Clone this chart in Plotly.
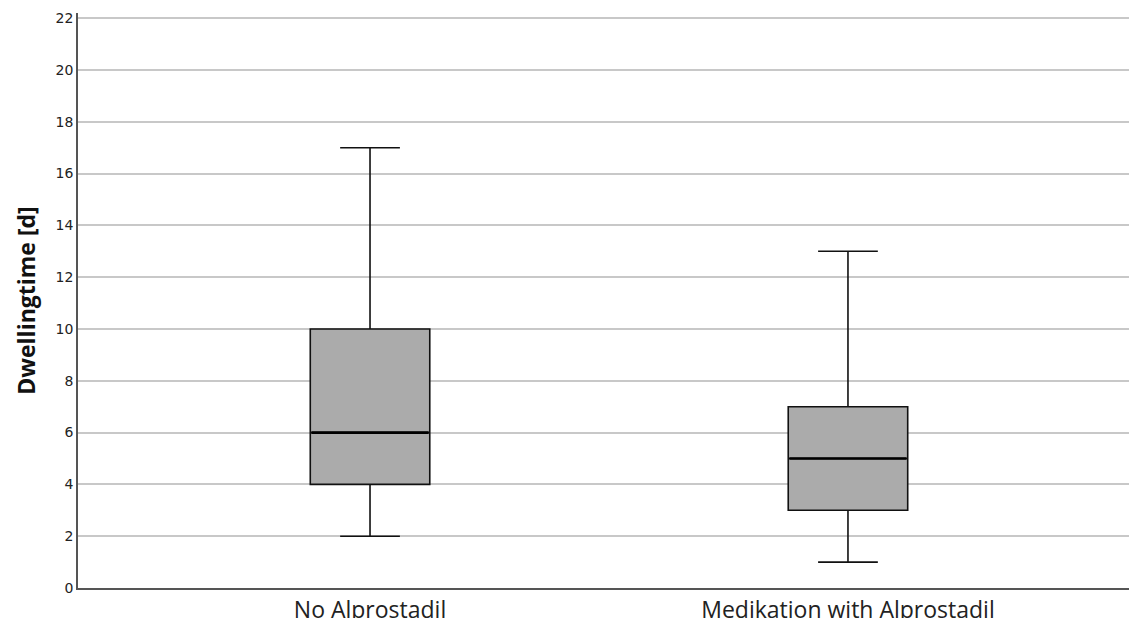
import plotly.graph_objects as go

categories = ["No Alprostadil", "Medikation with Alprostadil"]
lower_whisker = [2, 1]
q1_values = [4, 3]
median_values = [6, 5]
q3_values = [10, 7]
upper_whisker = [17, 13]
y_ticks = list(range(0, 23, 2))

fig = go.Figure()
fig.add_trace(go.Box(
    x=categories,
    lowerfence=lower_whisker,
    q1=q1_values,
    median=median_values,
    q3=q3_values,
    upperfence=upper_whisker,
    fillcolor="#ababab",
    line=dict(color="#111111", width=1.6),
    width=0.25,
    whiskerwidth=0.5,
    boxpoints=False,
    showlegend=False,
    hoverinfo="skip",
))
# thicker median line overlay (flat box at the median)
fig.add_trace(go.Box(
    x=categories,
    lowerfence=median_values,
    q1=median_values,
    median=median_values,
    q3=median_values,
    upperfence=median_values,
    fillcolor="rgba(0,0,0,0)",
    line=dict(color="#000000", width=2.6),
    width=0.245,
    whiskerwidth=0,
    boxpoints=False,
    showlegend=False,
    hoverinfo="skip",
))

fig.update_layout(
    width=1129, height=618,
    margin=dict(l=78, r=0, t=13, b=30, autoexpand=False),
    boxmode="overlay",
    paper_bgcolor="white",
    plot_bgcolor="white",
    xaxis=dict(
        range=[-0.611, 1.588],
        automargin=False,
        showgrid=False,
        showline=True, linecolor="#555555", linewidth=2,
        ticks="",
        tickfont=dict(family="Open Sans, DejaVu Sans", size=23, color="#222222"),
    ),
    yaxis=dict(
        range=[0, 22.2],
        automargin=False,
        tickvals=y_ticks,
        showgrid=True, gridcolor="#c8c8c8", gridwidth=1.5,
        showline=True, linecolor="#555555", linewidth=1.5,
        zeroline=False,
        ticks="", ticklen=0,
        tickfont=dict(family="DejaVu Sans", size=14, color="#222222"),
        title=dict(text="<b>Dwellingtime [d]</b>", standoff=14,
                   font=dict(family="Open Sans, DejaVu Sans", size=23, color="#111111")),
    ),
)

fig.write_html(
    "out.html",
    config={"displayModeBar": False},
    post_script="document.body.style.margin='0';document.body.style.overflow='hidden';"
                "document.documentElement.style.overflow='hidden';",
)
